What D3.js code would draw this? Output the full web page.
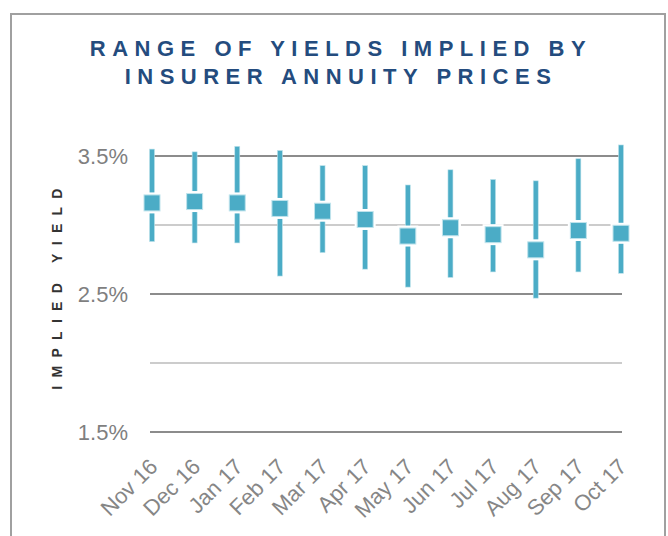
<!DOCTYPE html>
<html>
<head>
<meta charset="utf-8">
<script src="https://cdn.jsdelivr.net/npm/d3@7"></script>
<style>
  body { margin: 0; background: #fff; }
  text { font-family: "Liberation Sans", Arial, sans-serif; }
</style>
</head>
<body>
<div id="chart"></div>
<script>
// data (percent)
var months = ["Nov 16", "Dec 16", "Jan 17", "Feb 17", "Mar 17", "Apr 17",
              "May 17", "Jun 17", "Jul 17", "Aug 17", "Sep 17", "Oct 17"];
var highs = [3.55, 3.53, 3.57, 3.54, 3.43, 3.43, 3.29, 3.40, 3.33, 3.32, 3.48, 3.58];
var lows  = [2.88, 2.87, 2.87, 2.63, 2.80, 2.68, 2.55, 2.62, 2.66, 2.47, 2.66, 2.65];
var mids  = [3.16, 3.17, 3.16, 3.12, 3.10, 3.04, 2.92, 2.98, 2.93, 2.82, 2.96, 2.94];
var yTicks = [1.5, 2.0, 2.5, 3.0, 3.5];
var yLabels = ["1.5%", "", "2.5%", "", "3.5%"];

function init() {
  var w = 668, h = 536;
  var blue = "#4bacc6";

  var svg = d3.select("#chart").append("svg")
    .attr("width", w).attr("height", h);

  // frame (runs off the bottom of the picture)
  svg.append("rect")
    .attr("x", 11).attr("y", 14)
    .attr("width", 654).attr("height", 600)
    .attr("fill", "none")
    .attr("stroke", "#a0a0a0")
    .attr("stroke-width", 2);

  // title
  var title = svg.append("text")
    .attr("text-anchor", "middle")
    .attr("fill", "#244c7e")
    .attr("font-size", "22px")
    .attr("font-weight", "bold")
    .attr("letter-spacing", "6.5px");
  title.append("tspan").attr("x", 341).attr("y", 56).text("RANGE OF YIELDS IMPLIED BY");
  title.append("tspan").attr("x", 341).attr("y", 84).text("INSURER ANNUITY PRICES");

  var xScale = d3.scalePoint().domain(months).range([152, 621]);
  var yScale = d3.scaleLinear().domain([1.5, 3.5]).range([432, 156]);

  // gridlines
  svg.selectAll("line.grid")
    .data(yTicks)
    .enter().append("line")
    .attr("class", "grid")
    .attr("x1", 150).attr("x2", 622)
    .attr("y1", function(d) { return yScale(d); })
    .attr("y2", function(d) { return yScale(d); })
    .attr("stroke", function(d, i) { return yLabels[i] ? "#8c8c8c" : "#cccccc"; })
    .attr("stroke-width", 2);

  // y tick labels
  svg.selectAll("text.ylab")
    .data(yTicks)
    .enter().append("text")
    .attr("class", "ylab")
    .attr("x", 128)
    .attr("y", function(d) { return yScale(d) + 8; })
    .attr("text-anchor", "end")
    .attr("fill", "#7f7f7f")
    .attr("font-size", "22px")
    .text(function(d, i) { return yLabels[i]; });

  // y title
  svg.append("text")
    .attr("transform", "translate(62,285) rotate(-90)")
    .attr("text-anchor", "middle")
    .attr("fill", "#333")
    .attr("font-size", "14px")
    .attr("font-weight", "bold")
    .attr("letter-spacing", "8.3px")
    .text("IMPLIED YIELD");

  // x labels
  svg.selectAll("text.xlab")
    .data(months)
    .enter().append("text")
    .attr("class", "xlab")
    .attr("transform", function(d) { return "translate(" + (xScale(d) + 7) + ",468) rotate(-45)"; })
    .attr("text-anchor", "end")
    .attr("fill", "#868686")
    .attr("font-size", "22px")
    .text(function(d) { return d; });

  // range bars
  svg.selectAll("rect.range")
    .data(months)
    .enter().append("rect")
    .attr("class", "range")
    .attr("x", function(d) { return xScale(d) - 2.5; })
    .attr("width", 5)
    .attr("y", function(d, i) { return yScale(highs[i]); })
    .attr("height", function(d, i) { return yScale(lows[i]) - yScale(highs[i]); })
    .attr("fill", blue)
    .attr("stroke", "#bfe3ec")
    .attr("stroke-width", 0.6);

  // white halo behind markers
  svg.selectAll("rect.halo")
    .data(months)
    .enter().append("rect")
    .attr("class", "halo")
    .attr("x", function(d) { return xScale(d) - 10.5; })
    .attr("y", function(d, i) { return yScale(mids[i]) - 10.5; })
    .attr("width", 21).attr("height", 21)
    .attr("fill", "#fff");

  // markers
  svg.selectAll("rect.mid")
    .data(months)
    .enter().append("rect")
    .attr("class", "mid")
    .attr("x", function(d) { return xScale(d) - 8; })
    .attr("y", function(d, i) { return yScale(mids[i]) - 8; })
    .attr("width", 16).attr("height", 16)
    .attr("fill", blue)
    .attr("stroke", "#bfe3ec")
    .attr("stroke-width", 1);
}

window.onload = init;
</script>
</body>
</html>
